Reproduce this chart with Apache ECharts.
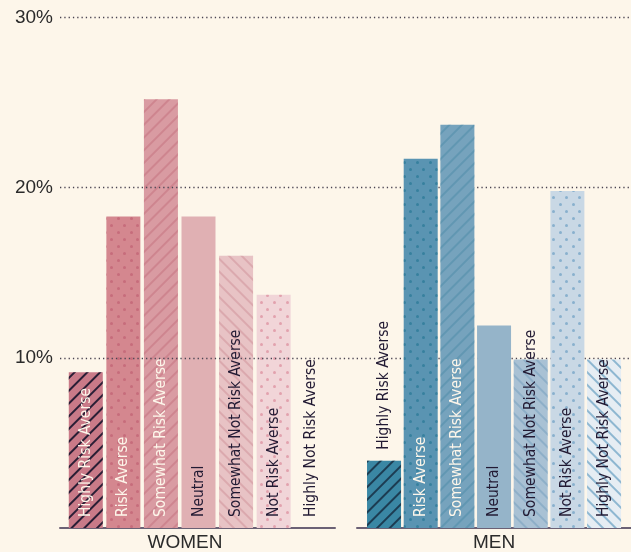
<!DOCTYPE html>
<html>
<head>
<meta charset="utf-8">
<script src="https://cdn.jsdelivr.net/npm/echarts@6/dist/echarts.min.js"></script>
<style>
  html, body { margin: 0; padding: 0; background: #fdf6ea; }
  #chart { width: 631px; height: 552px; }
</style>
</head>
<body>
<div id="chart"></div>
<script>
const categories = ['Highly Risk Averse', 'Risk Averse', 'Somewhat Risk Averse', 'Neutral',
  'Somewhat Not Risk Averse', 'Not Risk Averse', 'Highly Not Risk Averse']
const womenValues = [9.15, 18.3, 25.2, 18.3, 16.0, 13.7, 0]
const menValues = [3.95, 21.7, 23.7, 11.9, 9.9, 19.8, 9.9]
const yTicks = [0, 10, 20, 30]

const womenColors = ['#c97a88', '#d4878f', '#d99ba2', '#e0b0b3', '#e8c3c5', '#f1d5d8', 'rgba(0,0,0,0)']
const menColors = ['#3a87a4', '#5a94b2', '#76a3bd', '#95b4c9', '#a9c1d4', '#c9d8e5', '#e6edf3']
const darkText = '#221a33'
const lightText = '#fdf6ea'
const labelFont = '"Liberation Sans Narrow", "DejaVu Sans Condensed", "Roboto", sans-serif'

// 图案: "/" = -PI/4, "\" = PI/4
const hatch = (color, rot) => ({
  symbol: 'rect',
  symbolSize: 1,
  color: color,
  dashArrayX: [1, 0],
  dashArrayY: [1.1, 6.3],
  rotation: rot
})
const dots = (color) => ({
  symbol: 'circle',
  symbolSize: 1,
  color: color,
  dashArrayX: [[2.4, 9.6], [0, 6, 2.4, 3.6]],
  dashArrayY: [2.4, 3.6]
})
const none = { symbol: 'none' }

const womenDecals = [
  hatch('#2a1e35', -Math.PI / 4),
  dots('rgba(190,90,110,0.6)'),
  hatch('rgba(190,100,115,0.4)', -Math.PI / 4),
  none,
  hatch('rgba(200,130,140,0.4)', Math.PI / 4),
  dots('rgba(220,140,155,0.7)'),
  none
]
const menDecals = [
  hatch('#1c3c52', -Math.PI / 4),
  dots('rgba(40,120,150,0.7)'),
  hatch('rgba(80,140,170,0.55)', -Math.PI / 4),
  none,
  hatch('rgba(120,160,190,0.55)', Math.PI / 4),
  dots('rgba(110,160,195,0.7)'),
  hatch('rgba(120,170,200,0.8)', Math.PI / 4)
]
const womenTextColors = [lightText, lightText, lightText, darkText, darkText, darkText, darkText]
const menTextColors = [darkText, lightText, lightText, darkText, darkText, darkText, darkText]

const makeData = (values, colors, decals, textColors, topIndex) =>
  values.map((v, i) => ({
    value: v,
    itemStyle: { color: colors[i], decal: decals[i] },
    label: {
      position: i === topIndex ? 'top' : 'insideBottom',
      color: textColors[i]
    }
  }))

const barLabel = {
  show: true,
  rotate: 90,
  align: 'left',
  verticalAlign: 'middle',
  distance: 11,
  fontFamily: labelFont,
  fontSize: 15.5,
  formatter: (p) => categories[p.dataIndex]
}

const gridTop = 17.5
const gridBottom = 24
const yBase = { type: 'value', min: 0, max: 30, interval: 10 }

const myChart = echarts.init(document.getElementById('chart'), null, { renderer: 'canvas' })
myChart.setOption({
  backgroundColor: '#fdf6ea',
  animation: false,
  grid: [
    { left: 60, right: 0, top: gridTop, bottom: gridBottom },
    { left: 67, width: 263, top: gridTop, bottom: gridBottom },
    { left: 365.7, width: 256.7, top: gridTop, bottom: gridBottom },
    { left: 60, width: 275, top: gridTop, bottom: gridBottom },
    { left: 357, right: 0, top: gridTop, bottom: gridBottom }
  ],
  xAxis: [
    { gridIndex: 0, type: 'category', data: [''], show: false },
    { gridIndex: 1, type: 'category', data: categories, show: false },
    { gridIndex: 2, type: 'category', data: categories, show: false },
    {
      gridIndex: 3, type: 'category', data: ['WOMEN'],
      axisLine: { lineStyle: { color: '#6b6175', width: 2 } },
      axisTick: { show: false },
      axisLabel: { color: '#2b2b2b', fontSize: 19, margin: 5, padding: [0, 25, 0, 0], fontFamily: 'Liberation Sans, sans-serif' }
    },
    {
      gridIndex: 4, type: 'category', data: ['MEN'],
      axisLine: { lineStyle: { color: '#6b6175', width: 2 } },
      axisTick: { show: false },
      axisLabel: { color: '#2b2b2b', fontSize: 19, margin: 5, fontFamily: 'Liberation Sans, sans-serif' }
    }
  ],
  yAxis: [
    {
      ...yBase, gridIndex: 0, z: 2,
      axisLine: { show: false }, axisTick: { show: false },
      axisLabel: {
        color: '#2b2b2b', fontSize: 19, margin: 7, fontFamily: 'Liberation Sans, sans-serif',
        formatter: (v) => (v === yTicks[0] ? '' : v + '%')
      },
      splitLine: { showMinLine: false, lineStyle: { color: '#4a4452', type: [1.3, 3], width: 1.3 } }
    },
    { ...yBase, gridIndex: 1, show: false },
    { ...yBase, gridIndex: 2, show: false },
    { ...yBase, gridIndex: 3, show: false },
    { ...yBase, gridIndex: 4, show: false }
  ],
  series: [
    {
      type: 'bar', xAxisIndex: 1, yAxisIndex: 1, z: 1,
      barWidth: 34,
      label: barLabel,
      data: makeData(womenValues, womenColors, womenDecals, womenTextColors, -1)
    },
    {
      type: 'bar', xAxisIndex: 2, yAxisIndex: 2, z: 3,
      barWidth: 34,
      label: barLabel,
      data: makeData(menValues, menColors, menDecals, menTextColors, 0)
    }
  ]
})
</script>
</body>
</html>
